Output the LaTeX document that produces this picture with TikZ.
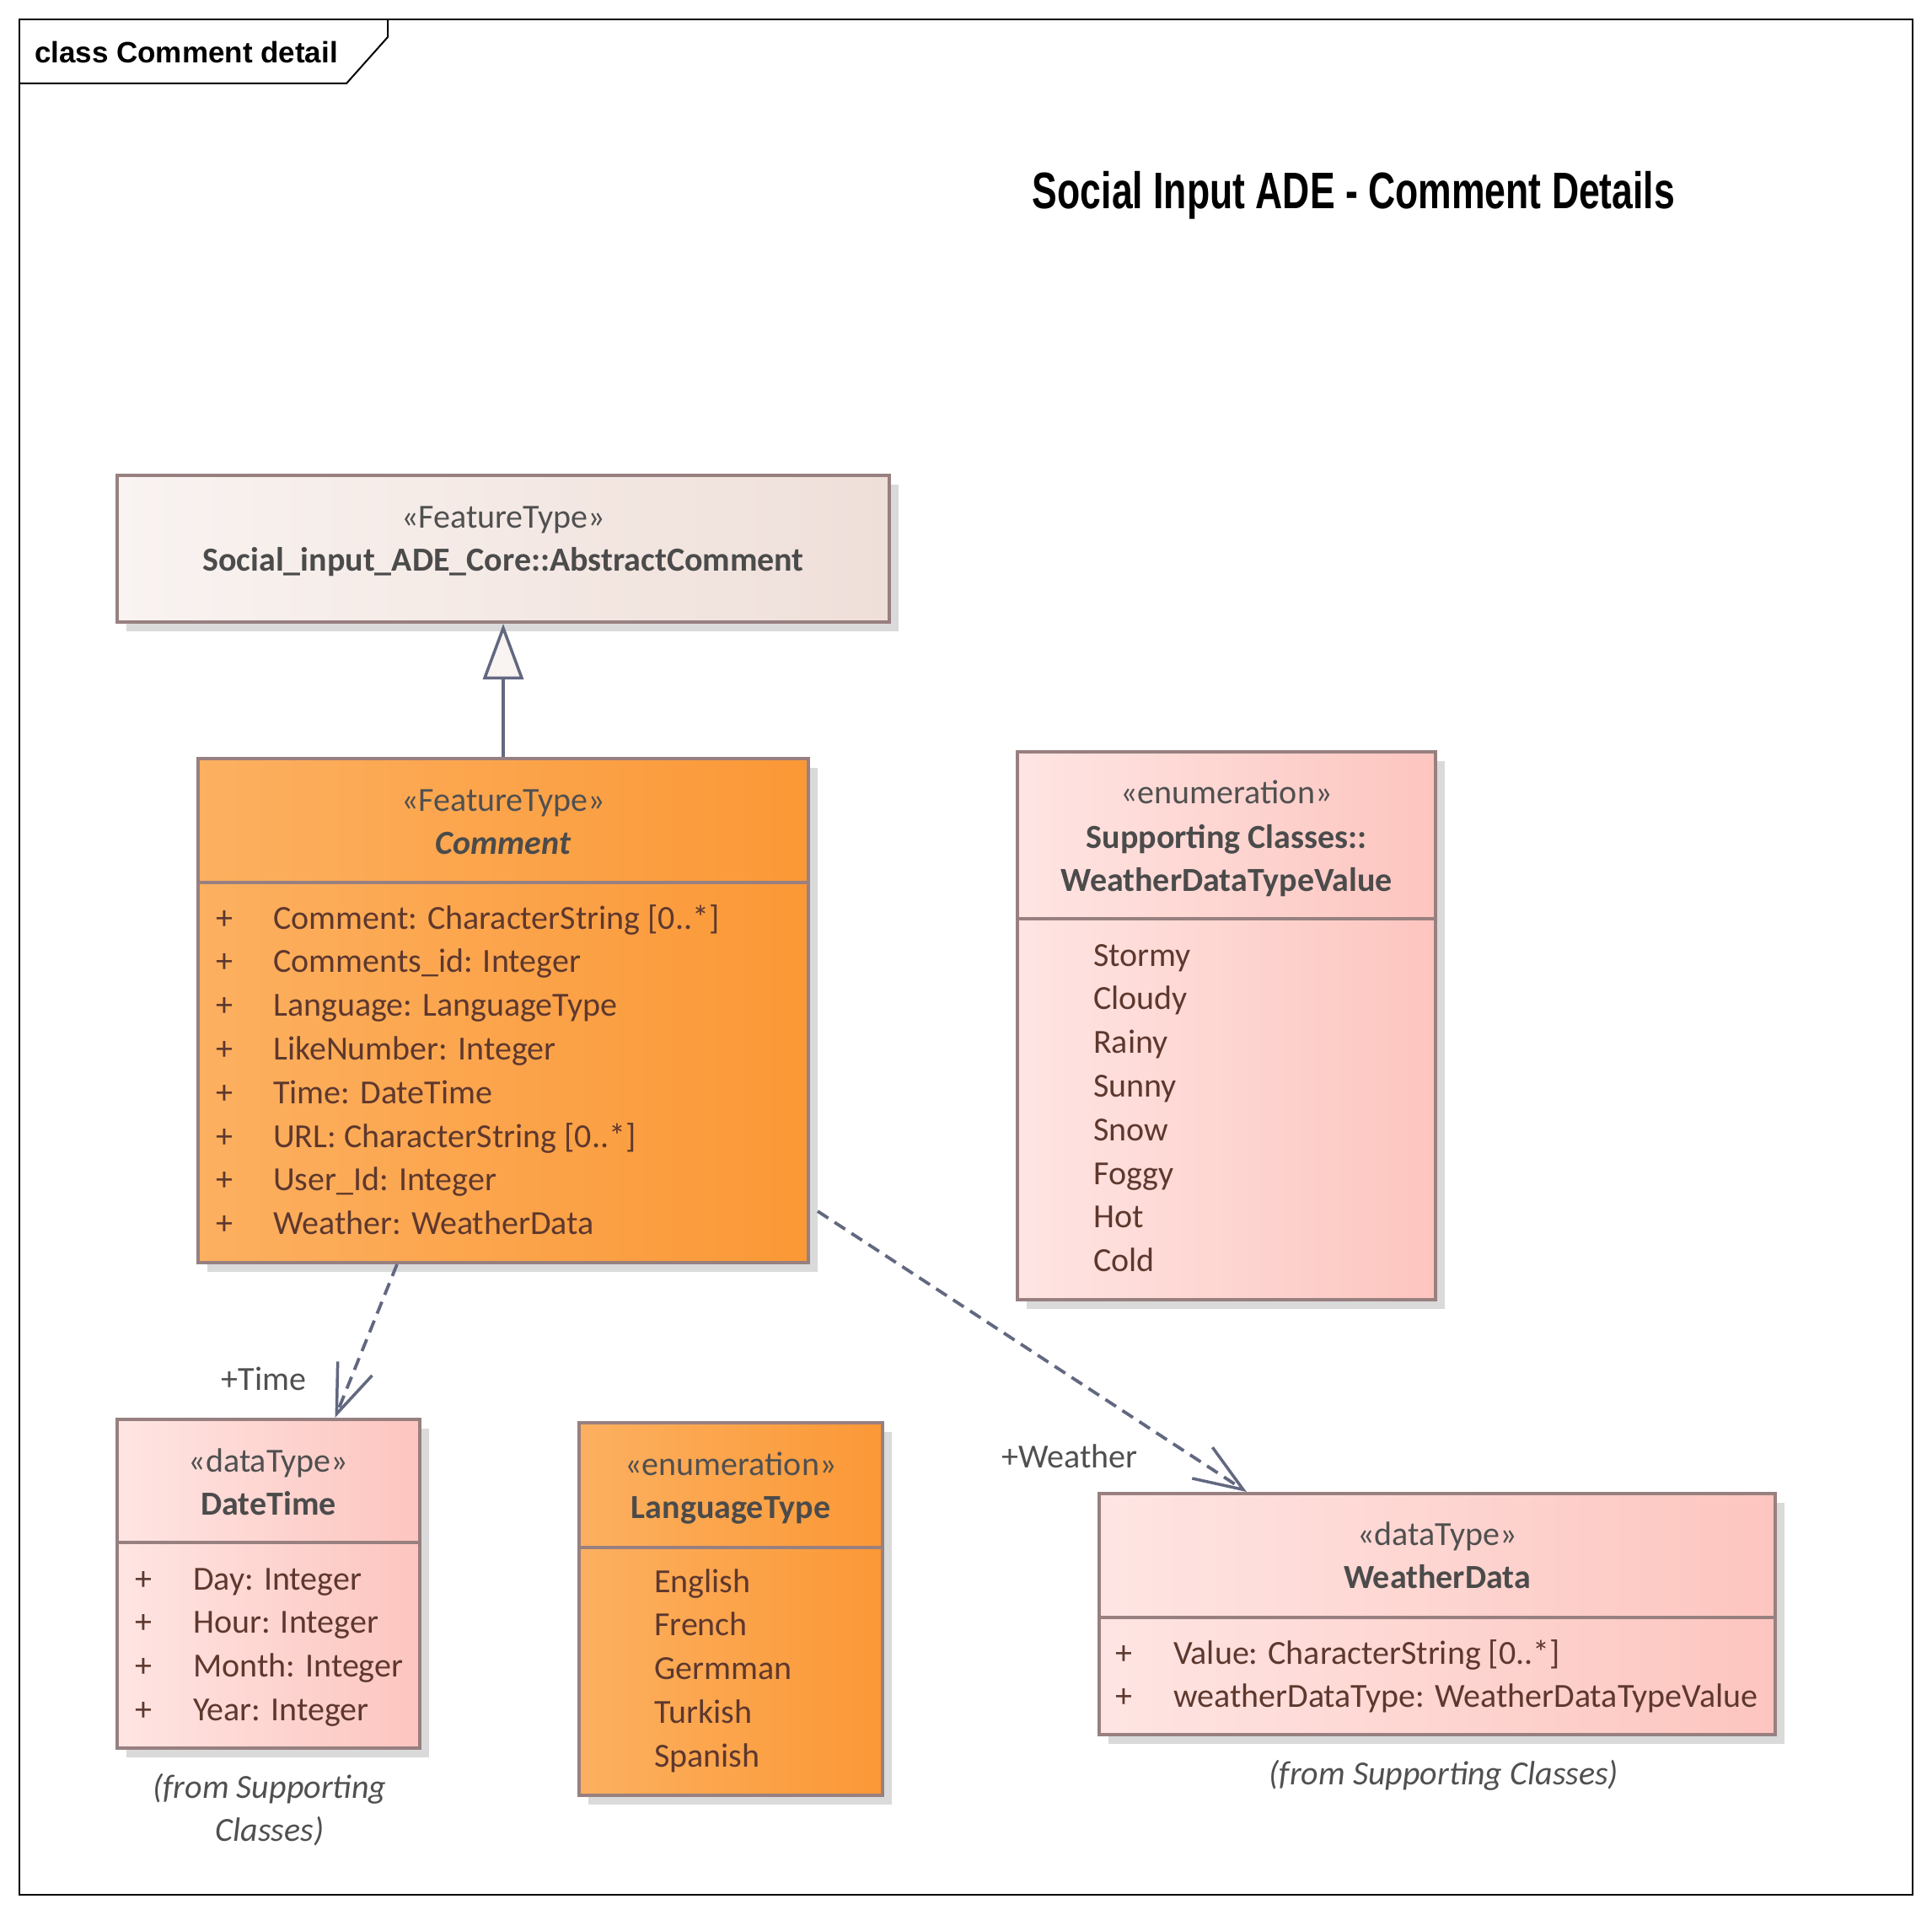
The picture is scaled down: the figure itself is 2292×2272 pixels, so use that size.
\documentclass[tikz,border=0pt]{standalone}
\usepackage{fontspec}
\usepackage{graphicx}
\setmainfont{Carlito}
\newfontfamily\arialf{Liberation Sans}
\usetikzlibrary{arrows.meta,shadows,calc}
\definecolor{bordc}{RGB}{152,128,128}
\definecolor{linec}{RGB}{98,104,128}
\definecolor{absL}{RGB}{249,243,241}
\definecolor{absR}{RGB}{239,223,217}
\definecolor{orL}{RGB}{252,176,96}
\definecolor{orR}{RGB}{251,152,54}
\definecolor{pkL}{RGB}{254,229,227}
\definecolor{pkR}{RGB}{253,197,191}
\definecolor{stc}{RGB}{80,80,80}
\definecolor{nmc}{RGB}{75,75,75}
\definecolor{atc}{RGB}{94,56,46}
\definecolor{shc}{RGB}{218,218,218}
\begin{document}
\begin{tikzpicture}[x=1pt,y=-1pt,
  umlbox/.style={draw=bordc, line width=4pt, rectangle, inner sep=0pt,
     drop shadow={shadow xshift=11pt, shadow yshift=-11pt, fill=shc, opacity=1}},
  absfill/.style={left color=absL, right color=absR},
  orfill/.style={left color=orL, right color=orR},
  pkfill/.style={left color=pkL, right color=pkR},
  divl/.style={draw=bordc, line width=4pt},
  sttext/.style={inner sep=0pt, anchor=base, text=stc, font=\fontsize{40}{48}\selectfont},
  nmtext/.style={inner sep=0pt, anchor=base, text=nmc, font=\fontsize{40}{48}\selectfont\bfseries},
  attrtext/.style={inner sep=0pt, anchor=base west, text=atc, font=\fontsize{40}{48}\selectfont},
  plustext/.style={inner sep=0pt, anchor=base, text=atc, font=\fontsize{40}{48}\selectfont},
  lbltext/.style={inner sep=0pt, anchor=base, text=stc, font=\fontsize{40}{48}\selectfont},
  fromtext/.style={inner sep=0pt, anchor=base, text=stc, font=\fontsize{40}{48}\selectfont\itshape},
  genline/.style={draw=linec, line width=3.5pt, -{Triangle[length=66pt,width=48pt,fill=absL,line width=3.5pt]}},
  depline/.style={draw=linec, line width=3.8pt, dash pattern=on 15pt off 9pt, -{Straight Barb[length=58pt,width=44pt,line width=3.5pt]}}
]
\useasboundingbox (0,0) rectangle (2292,2272);
\fill[white] (0,0) rectangle (2292,2272);

% frame
\draw[black, line width=2pt] (23,23) rectangle (2269,2248);
\draw[black, line width=2pt] (23,99) -- (411,99) -- (460,44) -- (460,23);
\node[inner sep=0pt, anchor=base, font=\arialf\fontsize{35}{42}\selectfont\bfseries] (frametitle) at (221,75) {class Comment detail};

% title
\node[inner sep=0pt, anchor=base, font=\arialf\fontsize{61}{70}\selectfont\bfseries] (title) at (1606,247) {\scalebox{0.73}[1]{Social Input ADE - Comment Details}};

% AbstractComment
\node[umlbox, absfill, minimum width=916pt, minimum height=174pt] (abs) at (597,651) {};
\node[sttext] (absst) at (597,626) {«FeatureType»};
\node[nmtext] (absnm) at (597,677) {Social\_input\_ADE\_Core::AbstractComment};

% Comment
\node[umlbox, orfill, minimum width=724pt, minimum height=598pt] (com) at (597,1199) {};
\draw[divl] (com.west |- 0,1047) -- (com.east |- 0,1047);
\node[sttext] (comst) at (597,962) {«FeatureType»};
\node[nmtext, font=\fontsize{40}{48}\selectfont\bfseries\itshape] (comnm) at (597,1013) {Comment};
\foreach \t [count=\i from 0] in {Comment: CharacterString [0..*],Comments\_id: Integer,Language: LanguageType,LikeNumber: Integer,Time: DateTime,URL: CharacterString [0..*],User\_Id: Integer,Weather: WeatherData}{
  \node[plustext] (comp\i) at (266,1102+\i*51.8) {+};
  \node[attrtext] (coma\i) at (324,1102+\i*51.8) {\t};
}

% WeatherDataTypeValue
\node[umlbox, pkfill, minimum width=496pt, minimum height=650pt] (wdtv) at (1455,1217) {};
\draw[divl] (wdtv.west |- 0,1090) -- (wdtv.east |- 0,1090);
\node[sttext] (wdtvst) at (1455,953) {«enumeration»};
\node[nmtext] (wdtvnm1) at (1455,1006) {Supporting Classes::};
\node[nmtext] (wdtvnm2) at (1455,1057) {WeatherDataTypeValue};
\foreach \t [count=\i from 0] in {Stormy,Cloudy,Rainy,Sunny,Snow,Foggy,Hot,Cold}{
  \node[attrtext] (wdtvl\i) at (1297,1146+\i*51.8) {\t};
}

% DateTime
\node[umlbox, pkfill, minimum width=359pt, minimum height=390pt] (dt) at (318.5,1879) {};
\draw[divl] (dt.west |- 0,1830) -- (dt.east |- 0,1830);
\node[sttext] (dtst) at (318.5,1746) {«dataType»};
\node[nmtext] (dtnm) at (318.5,1797) {DateTime};
\foreach \t [count=\i from 0] in {Day: Integer,Hour: Integer,Month: Integer,Year: Integer}{
  \node[plustext] (dtp\i) at (170,1886+\i*51.8) {+};
  \node[attrtext] (dta\i) at (229,1886+\i*51.8) {\t};
}
\node[fromtext] (dtfrom1) at (320,2133) {(from Supporting};
\node[fromtext] (dtfrom2) at (320,2184) {Classes)};

% LanguageType
\node[umlbox, orfill, minimum width=360pt, minimum height=442pt] (lt) at (867,1909) {};
\draw[divl] (lt.west |- 0,1836) -- (lt.east |- 0,1836);
\node[sttext] (ltst) at (867,1750) {«enumeration»};
\node[nmtext] (ltnm) at (867,1801) {LanguageType};
\foreach \t [count=\i from 0] in {English,French,Germman,Turkish,Spanish}{
  \node[attrtext] (ltl\i) at (776,1889+\i*51.8) {\t};
}

% WeatherData
\node[umlbox, pkfill, minimum width=802pt, minimum height=286pt] (wd) at (1705,1915) {};
\draw[divl] (wd.west |- 0,1919) -- (wd.east |- 0,1919);
\node[sttext] (wdst) at (1705,1833) {«dataType»};
\node[nmtext] (wdnm) at (1705,1884) {WeatherData};
\foreach \t [count=\i from 0] in {Value: CharacterString [0..*],weatherDataType: WeatherDataTypeValue}{
  \node[plustext] (wdp\i) at (1333,1974+\i*51.8) {+};
  \node[attrtext] (wda\i) at (1392,1974+\i*51.8) {\t};
}
\node[fromtext] (wdfrom) at (1713,2117) {(from Supporting Classes)};

% connectors
\draw[genline] (com.north) -- (abs.south);
\draw[depline] ([xshift=-126pt]com.south) -- ([xshift=79pt]dt.north);
\draw[depline] ([xshift=9pt,yshift=-238pt]com.east) -- ([xshift=-226pt]wd.north);
\node[lbltext] (timelbl) at (313,1649) {+Time};
\node[lbltext] (weatherlbl) at (1269,1741) {+Weather};
\end{tikzpicture}
\end{document}
